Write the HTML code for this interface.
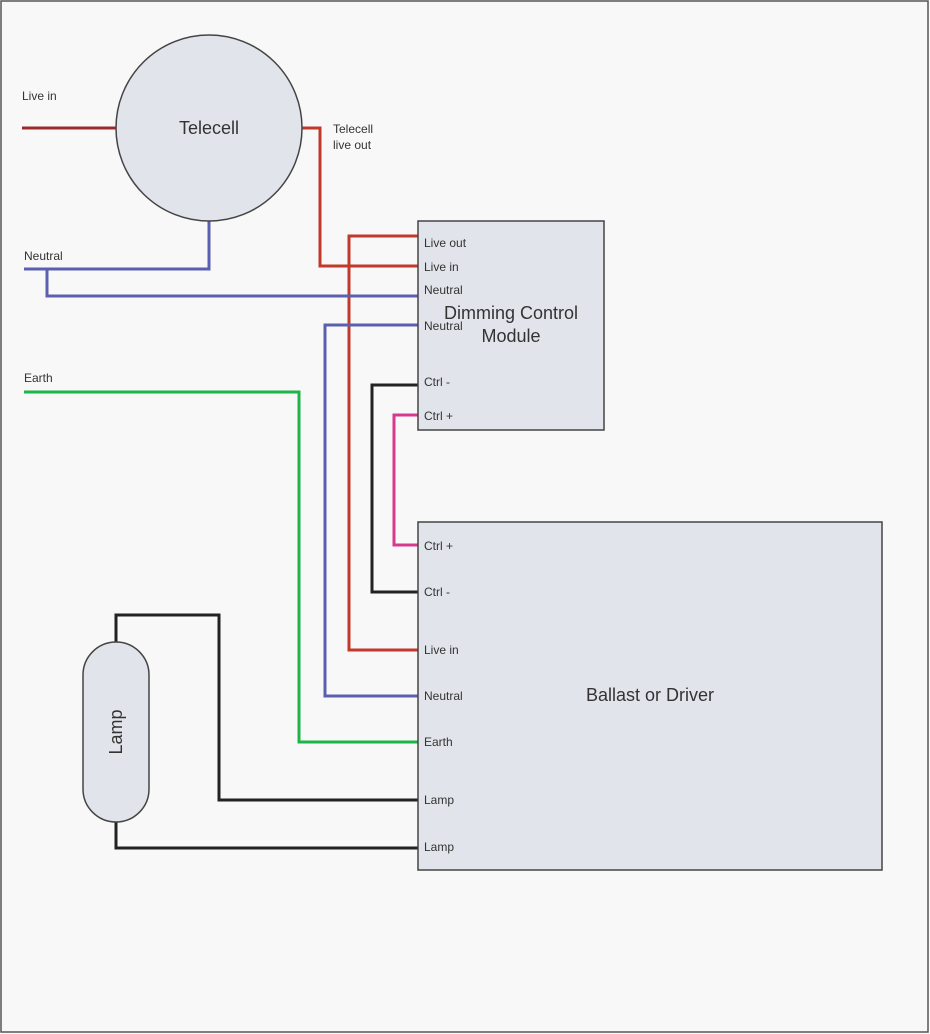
<!DOCTYPE html>
<html><head><style>
html,body{margin:0;padding:0;background:#f8f8f8;}
svg{display:block;font-family:"Liberation Sans",sans-serif;}
</style></head><body>
<svg width="930" height="1034" viewBox="0 0 930 1034">
<rect x="1" y="1" width="927" height="1031" fill="#f8f8f8" stroke="#555" stroke-width="1.5"/>
<g fill="none" stroke-width="3">
<polyline points="22,128 117,128" stroke="#9b2b2b"/>
<polyline points="301,128 320,128 320,266 418,266" stroke="#c0392b"/>
<polyline points="418,236 349,236 349,650 418,650" stroke="#c0392b"/>
<polyline points="24,269 209,269 209,220" stroke="#5b5fb0"/>
<polyline points="47,269 47,296 418,296" stroke="#5b5fb0"/>
<polyline points="418,325 325,325 325,696 418,696" stroke="#5b5fb0"/>
<polyline points="24,392 299,392 299,742 418,742" stroke="#1db54a"/>
<polyline points="418,385 372,385 372,592 418,592" stroke="#222"/>
<polyline points="418,415 394,415 394,545 418,545" stroke="#d63a8f"/>
<polyline points="418,800 219,800 219,615 116,615 116,642" stroke="#222"/>
<polyline points="116,822 116,848 418,848" stroke="#222"/>
</g>
<circle cx="209" cy="128" r="93" fill="#e1e4ea" stroke="#444" stroke-width="1.5"/>
<rect x="418" y="221" width="186" height="209" fill="#e1e4ea" stroke="#444" stroke-width="1.5"/>
<rect x="418" y="522" width="464" height="348" fill="#e1e4ea" stroke="#444" stroke-width="1.5"/>
<rect x="83" y="642" width="66" height="180" rx="33" fill="#e1e4ea" stroke="#444" stroke-width="1.5"/>
<g font-size="12" fill="#333">
<text x="22" y="100">Live in</text>
<text x="24" y="260">Neutral</text>
<text x="24" y="382">Earth</text>
<text x="333" y="133">Telecell</text>
<text x="333" y="149">live out</text>
<text x="424" y="247">Live out</text>
<text x="424" y="271">Live in</text>
<text x="424" y="294">Neutral</text>
<text x="424" y="330">Neutral</text>
<text x="424" y="386">Ctrl -</text>
<text x="424" y="420">Ctrl +</text>
<text x="424" y="550">Ctrl +</text>
<text x="424" y="596">Ctrl -</text>
<text x="424" y="654">Live in</text>
<text x="424" y="700">Neutral</text>
<text x="424" y="746">Earth</text>
<text x="424" y="804">Lamp</text>
<text x="424" y="851">Lamp</text>
</g>
<g font-size="18" fill="#333" text-anchor="middle">
<text x="209" y="134">Telecell</text>
<text x="511" y="319">Dimming Control</text>
<text x="511" y="342">Module</text>
<text x="650" y="701">Ballast or Driver</text>
<text transform="translate(122,732) rotate(-90)">Lamp</text>
</g>
</svg>
</body></html>
